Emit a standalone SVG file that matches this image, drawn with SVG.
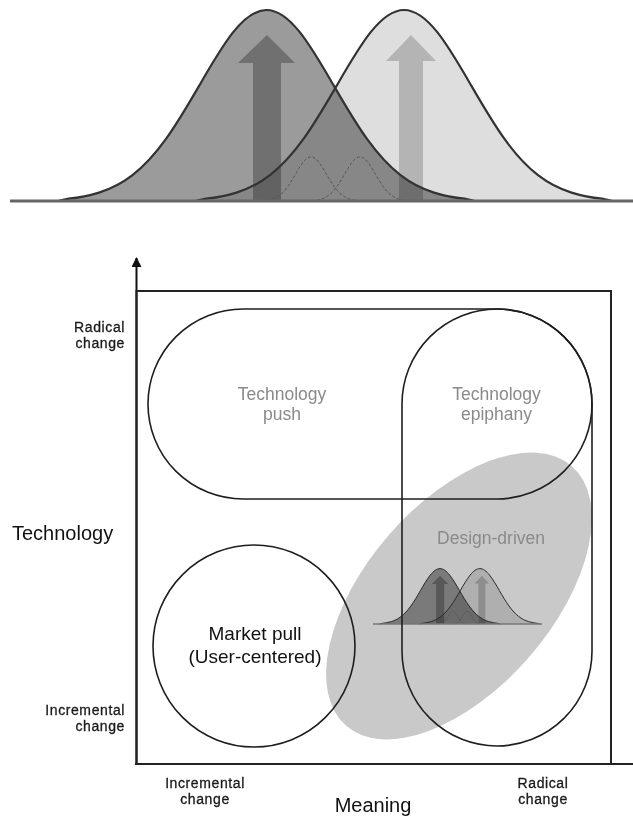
<svg xmlns="http://www.w3.org/2000/svg" xmlns:xlink="http://www.w3.org/1999/xlink" width="633" height="818" viewBox="0 0 633 818">
<style>
text{font-family:"Liberation Sans",Arial,sans-serif}
.small{font-size:14px;fill:#1a1a1a;letter-spacing:0.6px;stroke:#1a1a1a;stroke-width:0.3}
.axis{font-size:20px;fill:#111}
.gray{font-size:17.5px;fill:#8a8a8a;text-anchor:middle}
.blk{font-size:19px;fill:#111;text-anchor:middle}
.shape{fill:none;stroke:#1e1e1e;stroke-width:1.6}
.mul{mix-blend-mode:multiply}
</style>
<defs>
<path id="bell" vector-effect="non-scaling-stroke" d="M -208 0 C -205 -0.6 -203 -1.4 -198 -2.3 C -188 -3.3 -178.67 -4.89 -167.5 -8.38 C -156.33 -11.87 -145.17 -17.22 -134 -25.84 C -122.83 -34.46 -111.67 -46.51 -100.5 -62.02 C -89.33 -77.53 -78.17 -96.53 -67 -115.84 C -55.83 -135.15 -44.67 -154.51 -33.5 -168.56 C -22.33 -182.61 -11.17 -191 0 -191 C 11.17 -191 22.33 -182.61 33.5 -168.56 C 44.67 -154.51 55.83 -135.15 67 -115.84 C 78.17 -96.53 89.33 -77.53 100.5 -62.02 C 111.67 -46.51 122.83 -34.46 134 -25.84 C 145.17 -17.22 156.33 -11.87 167.5 -8.38 C 178.67 -4.89 188 -3.3 198 -2.3 C 203 -1.4 205 -0.6 208 0"/>
<marker id="ah" viewBox="0 0 10 10" refX="9" refY="5" markerWidth="5" markerHeight="5" orient="auto" markerUnits="strokeWidth"><path d="M0 0 L10 5 L0 10 Z" fill="#111"/></marker>
</defs>

<g id="top-distributions">
<use href="#bell" transform="translate(266.5,201)" fill="#9b9b9b"/>
<polygon points="238,63 267,35 295,63 281,63 281,201 253,201 253,63" fill="#707070"/>
<use href="#bell" transform="translate(404,201)" fill="#dedede" class="mul"/>
<polygon points="386,61 411,35 436,61 423,61 423,201 399,201 399,61" fill="#cfcfcf" class="mul"/>
<use href="#bell" transform="translate(266.5,201)" fill="none" stroke="#333" stroke-width="2.2"/>
<use href="#bell" transform="translate(404,201)" fill="none" stroke="#333" stroke-width="2.2"/>
<use href="#bell" transform="translate(311,201) scale(0.231)" fill="none" stroke="#555" stroke-width="1" stroke-dasharray="3 2"/>
<use href="#bell" transform="translate(360,201) scale(0.231)" fill="none" stroke="#555" stroke-width="1" stroke-dasharray="3 2"/>
<line x1="10" y1="201" x2="633" y2="201" stroke="#666" stroke-width="3"/>
</g>

<g id="axes">
<line x1="136.5" y1="764" x2="136.5" y2="258" stroke="#111" stroke-width="2" marker-end="url(#ah)"/>
<rect x="136.5" y="291" width="474.5" height="473" fill="none" stroke="#222" stroke-width="2"/>
<line x1="135" y1="764" x2="633" y2="764" stroke="#222" stroke-width="2"/>
</g>

<g id="design-driven">
<ellipse cx="459" cy="596" rx="172" ry="93" transform="rotate(-49 459 596)" fill="#c9c9c9"/>
<g class="mul" transform="translate(362.7,565.7) scale(0.29)">
<use href="#bell" transform="translate(266.5,201)" fill="#9b9b9b"/>
<polygon points="238,63 267,35 295,63 281,63 281,201 253,201 253,63" fill="#707070"/>
<use href="#bell" transform="translate(404,201)" fill="#dedede" class="mul"/>
<polygon points="386,61 411,35 436,61 423,61 423,201 399,201 399,61" fill="#cfcfcf" class="mul"/>
<use href="#bell" transform="translate(266.5,201)" fill="none" stroke="#333" stroke-width="1"/>
<use href="#bell" transform="translate(404,201)" fill="none" stroke="#333" stroke-width="1"/>
<use href="#bell" transform="translate(311,201) scale(0.231)" fill="none" stroke="#555" stroke-width="0.6" stroke-dasharray="1.5 1"/>
<use href="#bell" transform="translate(360,201) scale(0.231)" fill="none" stroke="#555" stroke-width="0.6" stroke-dasharray="1.5 1"/>
</g>
<line x1="373" y1="624" x2="542" y2="624" stroke="#777" stroke-width="1.5"/>
<text class="gray" x="491" y="544">Design-driven</text>
</g>

<g id="technology-push">
<rect class="shape" x="148" y="309" width="444" height="190" rx="95" ry="95"/>
<text class="gray" x="282" y="400">Technology</text>
<text class="gray" x="282" y="420">push</text>
</g>

<g id="technology-epiphany">
<rect class="shape" x="402" y="309" width="190" height="437" rx="95" ry="95"/>
<text class="gray" x="496.5" y="400">Technology</text>
<text class="gray" x="496.5" y="420">epiphany</text>
</g>

<g id="market-pull">
<circle class="shape" cx="254" cy="646" r="101"/>
<text class="blk" x="255" y="640">Market pull</text>
<text class="blk" x="255" y="663">(User-centered)</text>
</g>

<g id="labels">
<text class="small" x="125" y="332" text-anchor="end">Radical</text>
<text class="small" x="125" y="348" text-anchor="end">change</text>
<text class="small" x="125" y="715" text-anchor="end">Incremental</text>
<text class="small" x="125" y="731" text-anchor="end">change</text>
<text class="axis" x="12" y="540">Technology</text>
<text class="small" x="205" y="788" text-anchor="middle">Incremental</text>
<text class="small" x="205" y="804" text-anchor="middle">change</text>
<text class="small" x="543" y="788" text-anchor="middle">Radical</text>
<text class="small" x="543" y="804" text-anchor="middle">change</text>
<text class="axis" x="373" y="812" text-anchor="middle">Meaning</text>
</g>
</svg>
